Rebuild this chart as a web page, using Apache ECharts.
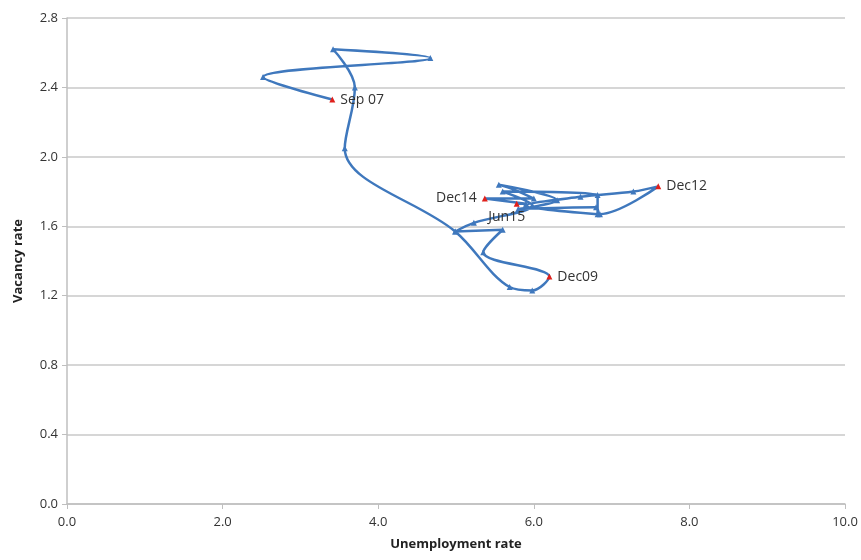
<!DOCTYPE html>
<html>
<head>
    <meta charset="utf-8" />
    <script src="https://cdn.jsdelivr.net/npm/echarts@6/dist/echarts.min.js"></script>
</head>
<body style="margin:0;">
    <div id="chart" style="width:861px;height:560px;"></div>
    <script type="text/javascript">
        // quarterly path, Sep 07 -> Jun15
        var periods = ['Sep 07', 'Dec07', 'Mar08', 'Jun08', 'Sep08', 'Dec08', 'Mar09', 'Jun09', 'Sep09', 'Dec09',
            'Mar10', 'Jun10', 'Sep10', 'Dec10', 'Mar11', 'Jun11', 'Sep11', 'Dec11', 'Mar12', 'Jun12', 'Sep12', 'Dec12',
            'Mar13', 'Jun13', 'Sep13', 'Dec13', 'Mar14', 'Jun14', 'Sep14', 'Dec14', 'Mar15', 'Jun15'];
        var unemployment = [3.41, 2.52, 4.67, 3.42, 3.70, 3.57, 4.99, 5.69, 5.98, 6.20,
            5.35, 5.60, 4.99, 5.23, 5.98, 5.60, 6.82, 6.82, 5.90, 6.60, 7.28, 7.60,
            6.85, 6.80, 5.80, 6.30, 5.55, 5.75, 6.00, 5.37, 5.90, 5.78];
        var vacancy = [2.33, 2.46, 2.57, 2.62, 2.40, 2.05, 1.57, 1.25, 1.23, 1.31,
            1.45, 1.58, 1.57, 1.62, 1.72, 1.80, 1.78, 1.67, 1.72, 1.77, 1.80, 1.83,
            1.67, 1.71, 1.70, 1.75, 1.84, 1.81, 1.76, 1.76, 1.73, 1.73];
        var labelled = ['Sep 07', 'Dec09', 'Dec12', 'Dec14', 'Jun15'];
        var xTicks = [0, 2, 4, 6, 8, 10];
        var yTicks = [0, 0.4, 0.8, 1.2, 1.6, 2.0, 2.4, 2.8];

        var labelPlace = { 'Dec14': 'left', 'Jun15': 'bottom' };

        var points = periods.map(function (p, i) {
            var pt = { value: [unemployment[i], vacancy[i]], name: p };
            if (labelled.indexOf(p) >= 0) {
                pt.itemStyle = { color: '#e0201b' };
                pt.label = {
                    show: true,
                    formatter: p,
                    position: labelPlace[p] || 'right',
                    distance: 5,
                    offset: p === 'Jun15' ? [-10, -2] : [0, 0],
                    fontSize: 14,
                    color: '#333',
                    fontFamily: 'Open Sans'
                };
            }
            return pt;
        });

        var myChart = echarts.init(document.getElementById('chart'));
        var option = {
            animation: false,
            backgroundColor: '#fff',
            grid: { left: 67, right: 16, top: 18, bottom: 56 },
            xAxis: {
                type: 'value',
                min: xTicks[0],
                max: xTicks[xTicks.length - 1],
                interval: 2,
                name: 'Unemployment rate',
                nameLocation: 'middle',
                nameGap: 34,
                nameTextStyle: { fontWeight: 'bold', fontSize: 13, color: '#222', fontFamily: 'Open Sans' },
                axisLine: { lineStyle: { color: '#bfbfbf', width: 1.5 } },
                axisTick: { show: true, length: 5, lineStyle: { color: '#bfbfbf' } },
                axisLabel: { formatter: function (v) { return v.toFixed(1); }, fontSize: 13, color: '#333', margin: 12, fontFamily: 'Open Sans' },
                splitLine: { show: false }
            },
            yAxis: {
                type: 'value',
                min: yTicks[0],
                max: yTicks[yTicks.length - 1],
                interval: 0.4,
                name: 'Vacancy rate',
                nameLocation: 'middle',
                nameGap: 42,
                nameTextStyle: { fontWeight: 'bold', fontSize: 13, color: '#222', fontFamily: 'Open Sans' },
                axisLine: { show: true, lineStyle: { color: '#bfbfbf', width: 1.5 } },
                axisTick: { show: true, length: 5, lineStyle: { color: '#bfbfbf' } },
                axisLabel: { formatter: function (v) { return v.toFixed(1); }, fontSize: 13, color: '#333', margin: 9, fontFamily: 'Open Sans' },
                splitLine: { lineStyle: { color: '#c8c8c8', width: 1.5 } }
            },
            series: [{
                type: 'line',
                data: points,
                smooth: 0.35,
                symbol: 'triangle',
                symbolSize: 6,
                showAllSymbol: true,
                lineStyle: { color: '#3f78bd', width: 2.5 },
                itemStyle: { color: '#3f78bd' }
            }]
        };
        myChart.setOption(option);
    </script>
</body>
</html>
